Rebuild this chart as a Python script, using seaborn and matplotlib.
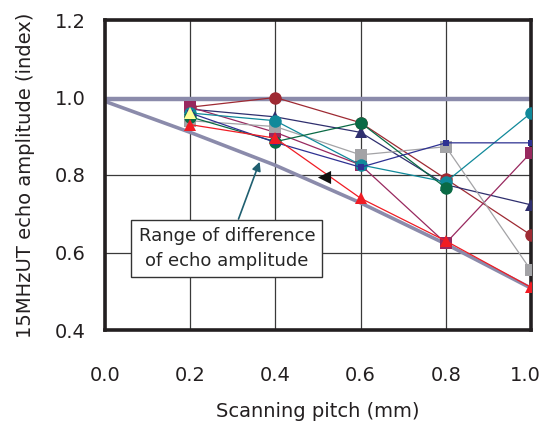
import numpy as np
import pandas as pd
import matplotlib
matplotlib.use("Agg")
import matplotlib.pyplot as plt
import matplotlib.transforms as mtransforms
import seaborn as sns

# scanning pitch (mm) where each test piece was measured
pitch = [0.2, 0.4, 0.6, 0.8, 1.0]

# echo amplitude (index), one list per test piece
dark_red = [0.975, 1.0, 0.935, 0.79, 0.645]
navy = [0.97, 0.95, 0.91, 0.775, 0.723]
magenta = [0.975, 0.91, 0.826, 0.624, 0.858]
gray = [0.94, 0.925, 0.852, 0.873, 0.554]
teal = [0.96, 0.94, 0.826, 0.782, 0.96]
green = [0.95, 0.886, 0.935, 0.767]
blue = [0.96, 0.884, 0.82, 0.883, 0.883]
red = [0.93, 0.895, 0.74, 0.63, 0.51]
yellow = [0.96]

# envelope of the range of difference
upper_x = [0.0, 1.0]
upper_y = [0.995, 0.995]
lower_x = [0.0, 0.2, 0.4, 0.6, 0.8, 1.0]
lower_y = [0.99, 0.91, 0.825, 0.728, 0.622, 0.508]

# lone black marker
lone_x = [0.515]
lone_y = [0.795]

xticks = [0.0, 0.2, 0.4, 0.6, 0.8, 1.0]
yticks = [0.4, 0.6, 0.8, 1.0, 1.2]

series = [
    ("dark_red", dark_red, "#9e2a33", "o", 9),
    ("navy", navy, "#2f2f6e", "^", 9),
    ("magenta", magenta, "#98295f", "s", 9),
    ("gray", gray, "#a3a3a6", "s", 8),
    ("teal", teal, "#10899a", "o", 9),
    ("green", green, "#0a6a45", "o", 9),
    ("blue", blue, "#2e3192", "s", 5),
    ("red", red, "#f01c24", "^", 8),
    ("yellow", yellow, "#ffff99", "^", 9),
]

sns.set_style("white")
plt.rcParams["font.family"] = ["DejaVu Sans"]

fig = plt.figure(figsize=(5.43, 4.26), dpi=100)
ax = fig.add_axes([105 / 543, 96 / 426, 426 / 543, 310 / 426])

# range envelope
sns.lineplot(x=upper_x, y=upper_y, ax=ax, color="#8b8bab", linewidth=3.2, zorder=2)
sns.lineplot(x=lower_x, y=lower_y, ax=ax, color="#8b8bab", linewidth=2.6, zorder=2)

for name, vals, col, mk, ms in series:
    df = pd.DataFrame({"pitch": pitch[:len(vals)], "amp": vals})
    sns.lineplot(data=df, x="pitch", y="amp", ax=ax, color=col, linewidth=0.9,
                 marker=mk, markersize=ms, markeredgewidth=0, zorder=3)

sns.scatterplot(x=lone_x, y=lone_y, ax=ax, color="#111111", marker="<", s=90,
                linewidth=0, zorder=4)

ax.annotate("Range of difference\nof echo amplitude", xy=(0.363, 0.834),
            xytext=(0.286, 0.611), ha="center", va="center", fontsize=13,
            linespacing=1.5,
            bbox=dict(boxstyle="square,pad=0.4", fc="white", ec="#333333", lw=1),
            arrowprops=dict(arrowstyle="-|>", color="#1f5f70", lw=1.2,
                            mutation_scale=13, relpos=(0.55, 1.0),
                            shrinkA=0, shrinkB=0),
            zorder=5)

ax.set_xlim(0.0, 1.0)
ax.set_ylim(0.4, 1.2)
ax.set_xticks(xticks)
ax.set_yticks(yticks)
ax.set_xticklabels([f"{t:.1f}" for t in xticks])
ax.set_yticklabels([f"{t:.1f}" for t in yticks])
ax.grid(True, color="#3a3a3a", linewidth=0.9)
ax.set_axisbelow(True)
for sp in ax.spines.values():
    sp.set_visible(True)
    sp.set_color("#231f20")
    sp.set_linewidth(2.6)
ax.tick_params(length=0, labelsize=14, colors="#231f20")
ax.tick_params(axis="x", pad=26)
ax.tick_params(axis="y", pad=14)
ax.set_xlabel("Scanning pitch (mm)", fontsize=14, color="#231f20", labelpad=12)
ax.set_ylabel("15MHzUT echo amplitude (index)", fontsize=14, color="#231f20", labelpad=14)

# keep the last x label inside the figure edge
last = ax.get_xticklabels()[-1]
last.set_transform(last.get_transform() + mtransforms.ScaledTranslation(-6 / 100, 0, fig.dpi_scale_trans))

fig.savefig("out.png", dpi=100)
